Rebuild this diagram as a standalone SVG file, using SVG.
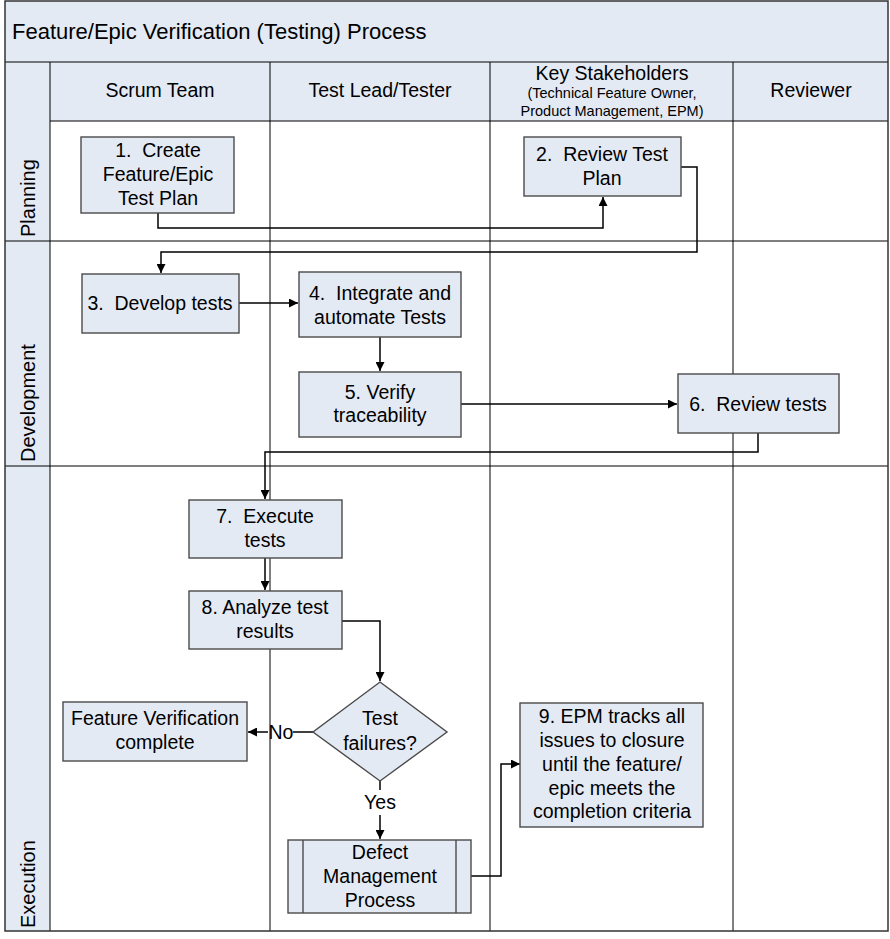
<svg xmlns="http://www.w3.org/2000/svg" width="890" height="939" viewBox="0 0 890 939">
<style>
text{font-family:"Liberation Sans",Arial,sans-serif;fill:#000;white-space:pre;}
.t{font-size:19.5px;text-anchor:middle;}
.h{font-size:19.5px;text-anchor:middle;}
.s{font-size:14.5px;text-anchor:middle;}
.lane{font-size:20px;text-anchor:start;}
.band{fill:#e4eaf4;}
.grid{stroke:#000;stroke-width:1;fill:none;}
.node{fill:#e4eaf4;stroke:#4a4a4a;stroke-width:1.4;}
.c{stroke:#000;stroke-width:1.5;fill:none;}
.ca{stroke:#000;stroke-width:1.5;fill:none;marker-end:url(#ah);}
</style>
<defs>
<marker id="ah" viewBox="0 0 10 10" refX="10" refY="5" markerWidth="10" markerHeight="9" markerUnits="userSpaceOnUse" orient="auto">
<path d="M0,0 L10,5 L0,10 z" fill="#000"/>
</marker>
</defs>
<rect x="0" y="0" width="890" height="939" fill="#fff"/>
<g id="frame">
<rect class="band" x="5" y="1" width="883" height="61"/>
<rect class="band" x="50" y="62" width="838" height="59"/>
<rect class="band" x="5" y="62" width="45" height="869"/>
<line class="grid" x1="5" y1="62" x2="888" y2="62"/>
<line class="grid" x1="50" y1="121" x2="888" y2="121"/>
<line class="grid" x1="5" y1="241" x2="888" y2="241"/>
<line class="grid" x1="5" y1="466" x2="888" y2="466"/>
<line class="grid" x1="50" y1="62" x2="50" y2="931"/>
<line class="grid" x1="270" y1="62" x2="270" y2="931"/>
<line class="grid" x1="490" y1="62" x2="490" y2="931"/>
<line class="grid" x1="733" y1="62" x2="733" y2="931"/>
<rect x="5" y="1" width="883" height="930" fill="none" stroke="#333" stroke-width="1.5"/>
<text x="12" y="39" style="font-size:22px">Feature/Epic Verification (Testing) Process</text>
<text class="h" x="160" y="97">Scrum Team</text>
<text class="h" x="380" y="97">Test Lead/Tester</text>
<text class="h" x="612" y="80">Key Stakeholders</text>
<text class="s" x="612" y="98">(Technical Feature Owner,</text>
<text class="s" x="612" y="116">Product Management, EPM)</text>
<text class="h" x="811" y="97">Reviewer</text>
<text class="lane" transform="translate(35,237) rotate(-90)">Planning</text>
<text class="lane" transform="translate(35,462) rotate(-90)">Development</text>
<text class="lane" transform="translate(35,928) rotate(-90)">Execution</text>
</g>
<g id="connectors">
<polyline class="ca" points="158,213 158,228 603,228 603,197"/>
<polyline class="ca" points="681,167 697,167 697,252 161,252 161,273"/>
<polyline class="ca" points="239,303 298,303"/>
<polyline class="ca" points="380,337 380,371"/>
<polyline class="ca" points="461,404 677,404"/>
<polyline class="ca" points="758,433 758,452 265,452 265,499"/>
<polyline class="ca" points="265,558 265,590"/>
<polyline class="ca" points="342,621 380,621 380,681"/>
<polyline class="c" points="313,732 293,732"/>
<polyline class="ca" points="268,732 248,732"/>
<text class="t" x="281" y="739">No</text>
<polyline class="c" points="380,781 380,790"/>
<polyline class="ca" points="380,815 380,839"/>
<text class="t" x="380" y="809">Yes</text>
<polyline class="ca" points="471,876 501,876 501,764 520,764"/>
</g>
<g id="n1"><rect class="node" x="81" y="137" width="153" height="76"/>
<text class="t" x="158" y="157">1.  Create</text><text class="t" x="158" y="181">Feature/Epic</text><text class="t" x="158" y="205">Test Plan</text></g>
<g id="n2"><rect class="node" x="524" y="137" width="157" height="59"/>
<text class="t" x="602" y="161">2.  Review Test</text><text class="t" x="602" y="185">Plan</text></g>
<g id="n3"><rect class="node" x="82" y="274" width="157" height="59"/>
<text class="t" x="160" y="310">3.  Develop tests</text></g>
<g id="n4"><rect class="node" x="299" y="272" width="162" height="65"/>
<text class="t" x="380" y="300">4.  Integrate and</text><text class="t" x="380" y="324">automate Tests</text></g>
<g id="n5"><rect class="node" x="299" y="372" width="162" height="65"/>
<text class="t" x="380" y="399">5. Verify</text><text class="t" x="380" y="422">traceability</text></g>
<g id="n6"><rect class="node" x="678" y="374" width="161" height="59"/>
<text class="t" x="758" y="411">6.  Review tests</text></g>
<g id="n7"><rect class="node" x="189" y="500" width="153" height="58"/>
<text class="t" x="265" y="523">7.  Execute</text><text class="t" x="265" y="547">tests</text></g>
<g id="n8"><rect class="node" x="189" y="591" width="153" height="58"/>
<text class="t" x="265" y="614">8. Analyze test</text><text class="t" x="265" y="638">results</text></g>
<g id="fv"><rect class="node" x="63" y="702" width="184" height="59"/>
<text class="t" x="155" y="725">Feature Verification</text><text class="t" x="155" y="749">complete</text></g>
<g id="dec"><polygon class="node" points="380,682 447,732 380,781 313,732"/>
<text class="t" x="380" y="725">Test</text><text class="t" x="380" y="750">failures?</text></g>
<g id="defect"><rect class="node" x="288" y="840" width="183" height="73"/>
<line x1="303" y1="840" x2="303" y2="913" stroke="#4a4a4a" stroke-width="1.4"/>
<line x1="456" y1="840" x2="456" y2="913" stroke="#4a4a4a" stroke-width="1.4"/>
<text class="t" x="380" y="859">Defect</text><text class="t" x="380" y="883">Management</text><text class="t" x="380" y="907">Process</text></g>
<g id="n9"><rect class="node" x="520" y="703" width="183" height="124"/>
<text class="t" x="612" y="723">9. EPM tracks all</text><text class="t" x="612" y="747">issues to closure</text><text class="t" x="612" y="771">until the feature/</text><text class="t" x="612" y="795">epic meets the</text><text class="t" x="612" y="818">completion criteria</text></g>
</svg>
